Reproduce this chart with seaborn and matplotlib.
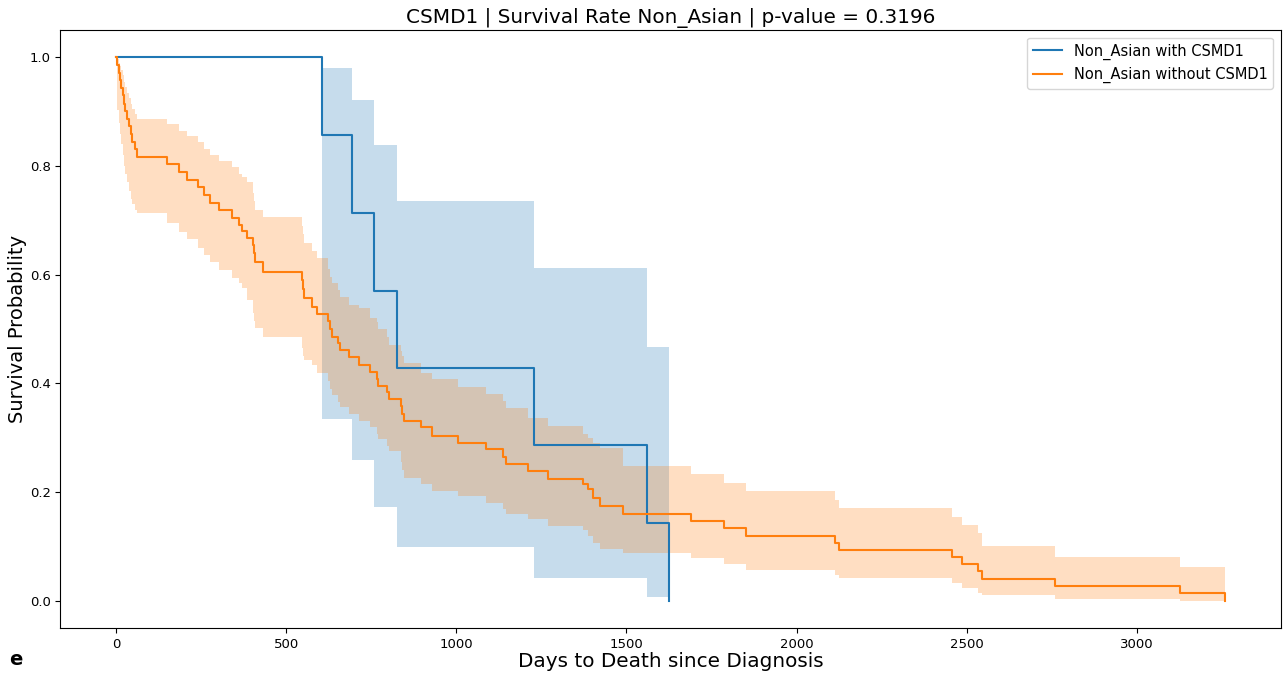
import numpy as np
import pandas as pd
import matplotlib
matplotlib.use("Agg")
import matplotlib.pyplot as plt
import seaborn as sns

# ---- data ----
with_days = [0, 606, 693, 757, 827, 1228, 1560, 1626]
with_surv = [1.0, 0.857, 0.714, 0.571, 0.429, 0.286, 0.143, 0.0]
with_lower = [1.0, 0.335, 0.259, 0.172, 0.099, 0.041, 0.006, 0.006]
with_upper = [1.0, 0.980, 0.921, 0.838, 0.736, 0.613, 0.467, 0.467]

without_days = [0, 3, 8, 12, 16, 20, 24, 28, 33, 38, 43, 48, 55, 62,
                150, 185, 209, 241, 259, 276, 303, 341, 362, 370, 385,
                403, 406, 409, 432, 546, 549, 553, 577, 591, 624, 630,
                636, 652, 657, 685, 715, 745, 766, 771, 797, 803, 837,
                840, 847, 896, 930, 1004, 1087, 1136, 1146, 1210, 1269,
                1371, 1386, 1401, 1421, 1489, 1691, 1788, 1852, 2112,
                2126, 2456, 2485, 2532, 2544, 2759, 3126, 3259]
without_surv = [1.0, 0.986, 0.972, 0.958, 0.944, 0.930, 0.915, 0.901, 0.887,
                0.873, 0.859, 0.845, 0.831, 0.817,
                0.803, 0.789, 0.775, 0.761, 0.747, 0.733, 0.719, 0.705, 0.692,
                0.680, 0.668, 0.654, 0.640, 0.624, 0.606, 0.590, 0.573, 0.557,
                0.541, 0.528, 0.515, 0.500, 0.486, 0.474, 0.462, 0.449, 0.433,
                0.421, 0.408, 0.396, 0.384, 0.372, 0.358, 0.344, 0.331, 0.319,
                0.304, 0.291, 0.279, 0.264, 0.251, 0.239, 0.225, 0.214, 0.205,
                0.189, 0.174, 0.159, 0.146, 0.133, 0.120, 0.106, 0.093, 0.080,
                0.067, 0.054, 0.040, 0.027, 0.0135, 0.0]
without_lower = [1.0, 0.904, 0.880, 0.860, 0.840, 0.820, 0.800, 0.785, 0.770,
                 0.755, 0.740, 0.730, 0.720, 0.713,
                 0.696, 0.678, 0.665, 0.650, 0.637, 0.624, 0.609, 0.594, 0.585,
                 0.576, 0.554, 0.530, 0.515, 0.502, 0.485, 0.465, 0.450, 0.443,
                 0.433, 0.420, 0.405, 0.390, 0.378, 0.365, 0.356, 0.344, 0.331,
                 0.319, 0.307, 0.298, 0.285, 0.275, 0.255, 0.240, 0.226, 0.215,
                 0.202, 0.193, 0.180, 0.168, 0.159, 0.150, 0.137, 0.131, 0.120,
                 0.106, 0.096, 0.087, 0.078, 0.067, 0.057, 0.048, 0.041, 0.032,
                 0.023, 0.015, 0.011, 0.004, 0.0, 0.0]
without_upper = [1.0, 0.998, 0.990, 0.985, 0.976, 0.968, 0.955, 0.945, 0.935,
                 0.925, 0.915, 0.905, 0.895, 0.887,
                 0.878, 0.865, 0.856, 0.844, 0.831, 0.820, 0.809, 0.798, 0.785,
                 0.780, 0.770, 0.750, 0.735, 0.720, 0.707, 0.690, 0.675, 0.659,
                 0.643, 0.631, 0.610, 0.595, 0.585, 0.572, 0.559, 0.545, 0.539,
                 0.520, 0.513, 0.500, 0.485, 0.470, 0.460, 0.450, 0.437, 0.420,
                 0.409, 0.393, 0.381, 0.368, 0.354, 0.337, 0.322, 0.307, 0.300,
                 0.291, 0.282, 0.248, 0.233, 0.217, 0.202, 0.185, 0.170, 0.155,
                 0.140, 0.125, 0.100, 0.081, 0.063, 0.063]

labels = ["Non_Asian with CSMD1", "Non_Asian without CSMD1"]
title = "CSMD1 | Survival Rate Non_Asian | p-value = 0.3196"

# ---- figure ----
fig = plt.figure(figsize=(12.87, 6.73), dpi=100)
ax = fig.add_axes([0.047, 0.067, 0.948, 0.888])

blue = "#1f77b4"
orange = "#ff7f0e"

df_with = pd.DataFrame({"days": with_days, "surv": with_surv})
df_without = pd.DataFrame({"days": without_days, "surv": without_surv})

ax.fill_between(with_days, with_lower, with_upper, step="post",
                color=blue, alpha=0.25, linewidth=0)
ax.fill_between(without_days, without_lower, without_upper, step="post",
                color=orange, alpha=0.25, linewidth=0)

sns.lineplot(data=df_with, x="days", y="surv", ax=ax, color=blue,
             drawstyle="steps-post", label=labels[0], linewidth=1.5,
             errorbar=None)
sns.lineplot(data=df_without, x="days", y="surv", ax=ax, color=orange,
             drawstyle="steps-post", label=labels[1], linewidth=1.5,
             errorbar=None)

ax.set_title(title, fontsize=14.4, pad=5)
ax.set_xlabel("Days to Death since Diagnosis", fontsize=14.4, labelpad=1)
ax.set_ylabel("Survival Probability", fontsize=14, labelpad=2)
ax.tick_params(labelsize=9.5)
ax.set_xlim(-163, 3422)
ax.set_ylim(-0.05, 1.05)
ax.set_yticks([0.0, 0.2, 0.4, 0.6, 0.8, 1.0])
ax.legend(loc="upper right", fontsize=10.5)

fig.text(0.007, 0.012, "e", fontsize=14, fontweight="bold")

fig.savefig("out.png", dpi=100)
